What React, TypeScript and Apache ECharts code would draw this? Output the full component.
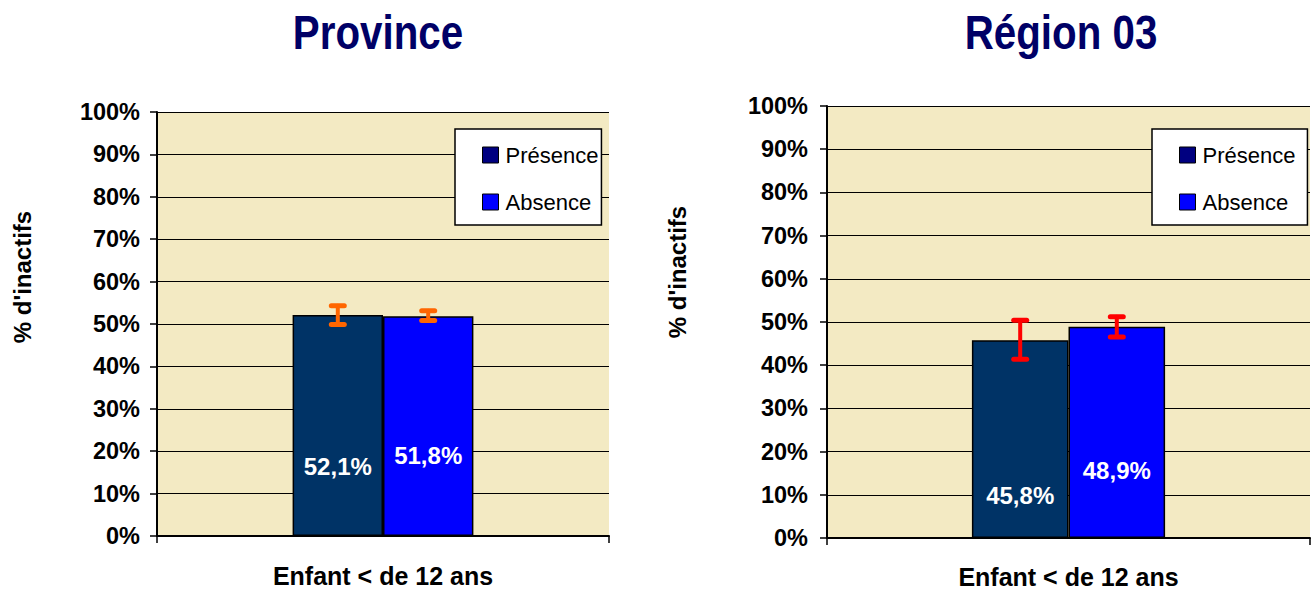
import React, { useEffect, useRef } from "react";
import * as echarts from "echarts";

// ---- Data ----
const categories = ["Enfant < de 12 ans"];
const seriesNames = ["Présence", "Absence"];
const chartTitles = ["Province", "Région 03"];
const yTickValues = [0, 10, 20, 30, 40, 50, 60, 70, 80, 90, 100];

const provinceValues = [52.1, 51.8];
const provinceErrLow = [49.9, 50.8];
const provinceErrHigh = [54.3, 53.1];

const regionValues = [45.8, 48.9];
const regionErrLow = [41.4, 46.5];
const regionErrHigh = [50.4, 51.2];

// ---- Styling ----
const SANS = "'Liberation Sans', Arial, Helvetica, sans-serif";
const BAR_COLORS = ["#003366", "#0000FF"];
const LEGEND_COLORS = ["#000080", "#0000FF"];
const PLOT_BG = "#F3EAC3";
const TITLE_COLOR = "#000066";

const provinceLabelLift = [58, 69];
const regionLabelLift = [31, 56];

const fmt = (v: number) => `${v.toFixed(1).replace(".", ",")}%`;

function barSeries(gridIdx: number, k: number, values: number[], lifts: number[]) {
  return {
    type: "bar",
    name: seriesNames[k],
    xAxisIndex: gridIdx,
    yAxisIndex: gridIdx,
    barGap: "0%",
    barCategoryGap: "60%",
    itemStyle: { color: BAR_COLORS[k], borderColor: "#000", borderWidth: 1.5 },
    label: {
      show: true,
      position: "insideBottom",
      distance: lifts[k],
      color: "#fff",
      fontFamily: SANS,
      fontWeight: "bold",
      fontSize: 24,
      formatter: (p: any) => fmt(p.value),
    },
    data: [values[k]],
    z: 3,
  };
}

function errorSeries(gridIdx: number, lows: number[], highs: number[], color: string) {
  return {
    type: "custom",
    xAxisIndex: gridIdx,
    yAxisIndex: gridIdx,
    encode: { x: 0, y: [1, 2] },
    data: lows.map((lo, k) => [0, lo, highs[k], k]),
    z: 10,
    renderItem: (params: any, api: any) => {
      const k = api.value(3);
      const lo = api.coord([api.value(0), api.value(1)]);
      const hi = api.coord([api.value(0), api.value(2)]);
      const band = api.size([1, 0])[0];
      const barW = band * 0.2;
      const x = lo[0] + (k === 0 ? -barW / 2 : barW / 2);
      const half = 6.5;
      const style = { stroke: color, lineWidth: 4, lineCap: "round" };
      return {
        type: "group",
        children: [
          { type: "line", shape: { x1: x, y1: lo[1], x2: x, y2: hi[1] }, style },
          { type: "line", shape: { x1: x - half, y1: hi[1], x2: x + half, y2: hi[1] }, style: { ...style, lineWidth: 5 } },
          { type: "line", shape: { x1: x - half, y1: lo[1], x2: x + half, y2: lo[1] }, style: { ...style, lineWidth: 5 } },
        ],
      };
    },
  };
}

function yAxis(gridIdx: number, margin: number) {
  return {
    type: "value",
    gridIndex: gridIdx,
    min: yTickValues[0],
    max: yTickValues[yTickValues.length - 1],
    interval: 10,
    axisLine: { show: true, lineStyle: { color: "#000", width: 2 } },
    axisTick: { show: true, length: 7, lineStyle: { color: "#000", width: 1.5 } },
    axisLabel: {
      margin,
      color: "#000",
      fontFamily: SANS,
      fontWeight: "bold",
      fontSize: 23.5,
      formatter: "{value}%",
    },
    splitLine: { show: true, lineStyle: { color: "#000", width: 1 } },
  };
}

function xAxis(gridIdx: number, margin: number) {
  return {
    type: "category",
    gridIndex: gridIdx,
    data: categories,
    axisLine: { show: true, lineStyle: { color: "#000", width: 2 } },
    axisTick: { show: true, length: 7, alignWithLabel: false, lineStyle: { color: "#000", width: 1.5 } },
    axisLabel: {
      margin,
      color: "#000",
      fontFamily: SANS,
      fontWeight: "bold",
      fontSize: 25,
      lineHeight: 25,
    },
  };
}

function legend(left: number, padRight: number) {
  return {
    orient: "vertical",
    left,
    top: 129,
    backgroundColor: "#fff",
    borderColor: "#000",
    borderWidth: 1.5,
    padding: [14, padRight, 11, 27],
    itemGap: 23,
    itemWidth: 16,
    itemHeight: 16,
    icon: "rect",
    selectedMode: false,
    itemStyle: { borderColor: "#000", borderWidth: 1 },
    textStyle: { fontFamily: SANS, fontSize: 22, lineHeight: 24, color: "#000", padding: [0, 0, 0, 2] },
    data: seriesNames.map((n, k) => ({ name: n, itemStyle: { color: LEGEND_COLORS[k] } })),
  };
}

function titleText(text: string, x: number) {
  return {
    type: "text",
    x,
    y: 32,
    scaleX: 0.84,
    style: {
      text,
      fill: TITLE_COLOR,
      font: `bold 48px ${SANS}`,
      textAlign: "center",
      textVerticalAlign: "middle",
    },
  };
}

function yName(x: number, y: number) {
  return {
    type: "text",
    x,
    y,
    rotation: Math.PI / 2,
    style: {
      text: "% d'inactifs",
      fill: "#000",
      font: `bold 24px ${SANS}`,
      textAlign: "center",
      textVerticalAlign: "middle",
    },
  };
}

export default function App() {
  const ref = useRef<HTMLDivElement>(null);
  useEffect(() => {
    if (!ref.current) return;
    const chart = echarts.init(ref.current, undefined, { renderer: "svg" });
    const option: any = {
      animation: false,
      backgroundColor: "#fff",
      grid: [
        { left: 157, right: 706, top: 112, bottom: 54, show: true, backgroundColor: PLOT_BG, borderWidth: 0 },
        { left: 827, right: 5, top: 106, bottom: 52, show: true, backgroundColor: PLOT_BG, borderWidth: 0 },
      ],
      legend: [legend(455, 3), legend(1152, 12)],
      xAxis: [xAxis(0, 27), xAxis(1, 26)],
      yAxis: [yAxis(0, 17), yAxis(1, 19)],
      graphic: [
        titleText(chartTitles[0], 378),
        titleText(chartTitles[1], 1061),
        yName(22, 277),
        yName(677, 272),
      ],
      series: [
        barSeries(0, 0, provinceValues, provinceLabelLift),
        barSeries(0, 1, provinceValues, provinceLabelLift),
        errorSeries(0, provinceErrLow, provinceErrHigh, "#FF6600"),
        barSeries(1, 0, regionValues, regionLabelLift),
        barSeries(1, 1, regionValues, regionLabelLift),
        errorSeries(1, regionErrLow, regionErrHigh, "#FF0000"),
      ],
    };
    chart.setOption(option);
    return () => chart.dispose();
  }, []);
  return (
    <div
      ref={ref}
      style={{ position: "absolute", left: 0, top: 0, width: 1315, height: 590 }}
    />
  );
}
